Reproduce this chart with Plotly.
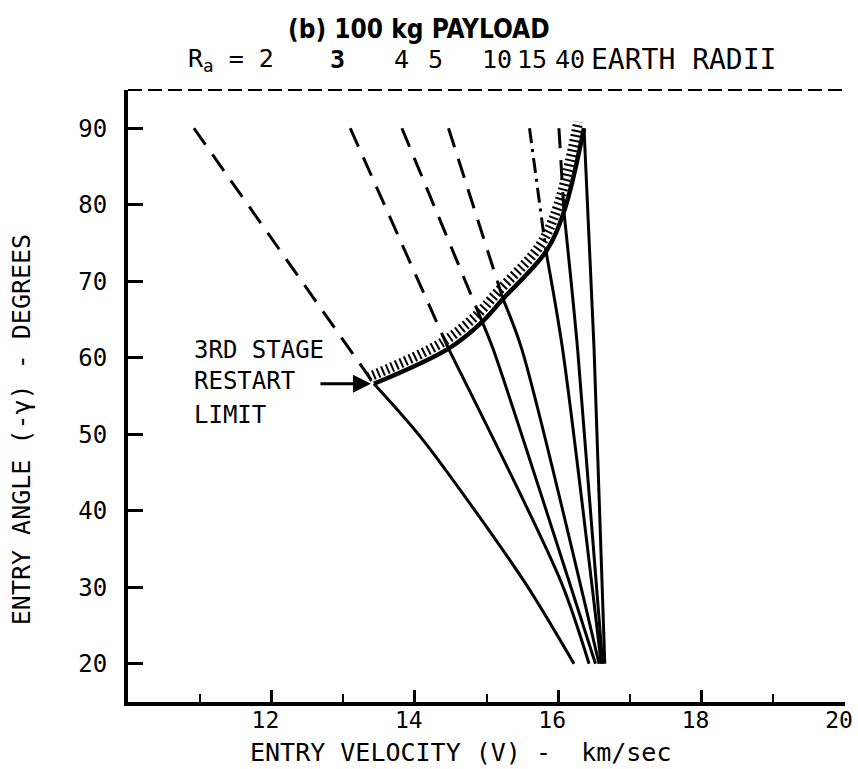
import plotly.graph_objects as go
import numpy as np

# ---------------- data ----------------
ra_labels = ["2", "3", "4", "5", "10", "15", "40"]

# dashed (coast) segments: from gamma = 90 deg down to the 3rd-stage restart limit
dash_top_v = [10.92, 13.10, 13.82, 14.47, 15.60, 16.01]
dash_top_gamma = [90, 90, 90, 90, 90, 90]

# restart-limit points (one per Ra)
limit_v = [13.43, 14.47, 14.94, 15.23, 15.83, 16.08, 16.36]
limit_gamma = [56.6, 61.2, 64.7, 67.7, 73.9, 79.1, 90.0]

# solid (powered) segments from the restart limit down to gamma = 20
solid_v = {
    "2": [13.43, 14.11, 15.53, 16.22],
    "3": [14.47, 16.04, 16.43],
    "4": [14.94, 15.09, 16.52],
    "5": [15.23, 15.49, 16.57],
    "10": [15.83, 16.06, 16.60],
    "15": [16.08, 16.27, 16.62],
    "40": [16.36, 16.50, 16.65],
}
solid_gamma = {
    "2": [56.6, 49.3, 30.7, 20.0],
    "3": [61.2, 30.7, 20.0],
    "4": [64.7, 61.2, 20.0],
    "5": [67.7, 61.2, 20.0],
    "10": [73.9, 61.2, 20.0],
    "15": [79.1, 61.2, 20.0],
    "40": [90.0, 61.2, 20.0],
}

x_major_ticks = [12, 14, 16, 18, 20]
x_minor_ticks = [11, 13, 15, 17, 19]
y_ticks = [20, 30, 40, 50, 60, 70, 80, 90]

# ---------------- style ----------------
MONO = "DejaVu Sans Mono, Liberation Mono, monospace"
NARROW = "Liberation Sans Narrow, Arial Narrow, DejaVu Sans Condensed, Roboto, sans-serif"
W, H = 858, 769
ML, MR, MT, MB = 128, 5, 90, 67
PW, PH = W - ML - MR, H - MT - MB


def px(xp):
    return (xp - ML) / PW


def py(yp):
    return (H - MB - yp) / PH


fig = go.Figure()

# dashed pre-restart lines
for i, v0 in enumerate(dash_top_v):
    dash = "longdashdot" if ra_labels[i] == "10" else "20px,12px"
    fig.add_trace(go.Scatter(
        x=[v0, limit_v[i]], y=[dash_top_gamma[i], limit_gamma[i]],
        mode="lines", line=dict(color="black", width=3, dash=dash),
        hoverinfo="skip", showlegend=False))

# solid post-restart lines
for lab in ra_labels:
    fig.add_trace(go.Scatter(
        x=solid_v[lab], y=solid_gamma[lab], mode="lines",
        line=dict(color="black", width=3, shape="spline", smoothing=0.8),
        hoverinfo="skip", showlegend=False))

# restart limit hatching (thick dashed line offset to the outer side)
lv = np.array(limit_v)
lg = np.array(limit_gamma)
fig.add_trace(go.Scatter(
    x=lv - 0.08, y=lg + 0.85, mode="lines",
    line=dict(color="black", width=10, dash="2px,3px", shape="spline", smoothing=1.0),
    hoverinfo="skip", showlegend=False))
# restart limit curve
fig.add_trace(go.Scatter(
    x=lv, y=lg, mode="lines",
    line=dict(color="black", width=4.5, shape="spline", smoothing=1.0),
    hoverinfo="skip", showlegend=False))

# top dashed frame line
fig.add_shape(type="line", xref="paper", yref="paper", x0=0, x1=1, y0=1, y1=1,
              line=dict(color="black", width=2, dash="14px,6px"))

ann = []
# title
ann.append(dict(text="<b>(b) 100 kg PAYLOAD</b>", xref="paper", yref="paper",
                x=px(422), y=py(29), xanchor="center", yanchor="middle", showarrow=False,
                font=dict(family=NARROW, size=26, color="black")))
# Ra labels on top
ann.append(dict(text="R<sub>a</sub> = " + ra_labels[0], xref="paper", yref="paper",
                x=px(278), y=py(60), xanchor="right", yanchor="middle", showarrow=False,
                font=dict(family=MONO, size=25, color="black")))
ra_px = [340, 405, 439, 501, 537, 575]
for lab, xp in zip(ra_labels[1:], ra_px):
    ann.append(dict(text=("<b>%s</b>" % lab) if lab == "3" else lab,
                    xref="paper", yref="paper", x=px(xp), y=py(60),
                    xanchor="center", yanchor="middle",
                    showarrow=False, font=dict(family=MONO, size=25, color="black")))
ann.append(dict(text="EARTH RADII", xref="paper", yref="paper",
                x=px(594), y=py(60), xanchor="left", yanchor="middle", showarrow=False,
                font=dict(family=MONO, size=28, color="black")))
# axis titles
ann.append(dict(text="ENTRY VELOCITY (V) - &nbsp;km/sec", xref="paper", yref="paper",
                x=px(464), y=py(752), xanchor="center", yanchor="middle", showarrow=False,
                font=dict(family=MONO, size=25, color="black")))
ann.append(dict(text="ENTRY ANGLE (-\u03b3) - DEGREES", xref="paper", yref="paper",
                x=px(20), y=py(430), xanchor="center", yanchor="middle",
                textangle=-90, showarrow=False,
                font=dict(family=MONO, size=25, color="black")))
# restart limit label
for txt, yp in [("3RD STAGE", 350), ("RESTART", 381), ("LIMIT", 415)]:
    ann.append(dict(text=txt, xref="paper", yref="paper", x=px(193), y=py(yp),
                    xanchor="left", yanchor="middle", showarrow=False,
                    font=dict(family=MONO, size=24, color="black")))
ann.append(dict(text="", x=limit_v[0], y=limit_gamma[0], xref="x", yref="y",
                showarrow=True, ax=-55, ay=0, arrowhead=2, arrowsize=1.2,
                arrowwidth=3, arrowcolor="black", standoff=3))

fig.update_layout(
    width=W, height=H, margin=dict(l=ML, r=MR, t=MT, b=MB),
    paper_bgcolor="white", plot_bgcolor="white", showlegend=False,
    annotations=ann,
    xaxis=dict(range=[10, 20], tickvals=x_major_ticks, ticks="inside", ticklen=12,
               tickwidth=2.5, tickcolor="black", showgrid=False, zeroline=False,
               showline=True, linewidth=4, linecolor="black",
               tickfont=dict(family=MONO, size=23, color="black"),
               ticklabelstandoff=-6, ticklabelshift=-6, ticklabeloverflow="allow",
               minor=dict(tickvals=x_minor_ticks, ticks="inside", ticklen=8,
                          tickwidth=2, tickcolor="black", showgrid=False)),
    yaxis=dict(range=[15, 95], tickvals=y_ticks, ticks="inside", ticklen=15,
               tickwidth=3, tickcolor="black", showgrid=False, zeroline=False,
               showline=True, linewidth=4, linecolor="black",
               tickfont=dict(family=MONO, size=24, color="black"),
               ticklabelstandoff=12),
)

fig.write_html("out.html", config={"displayModeBar": False},
               post_script="document.body.style.margin='0';document.body.style.padding='0';")
